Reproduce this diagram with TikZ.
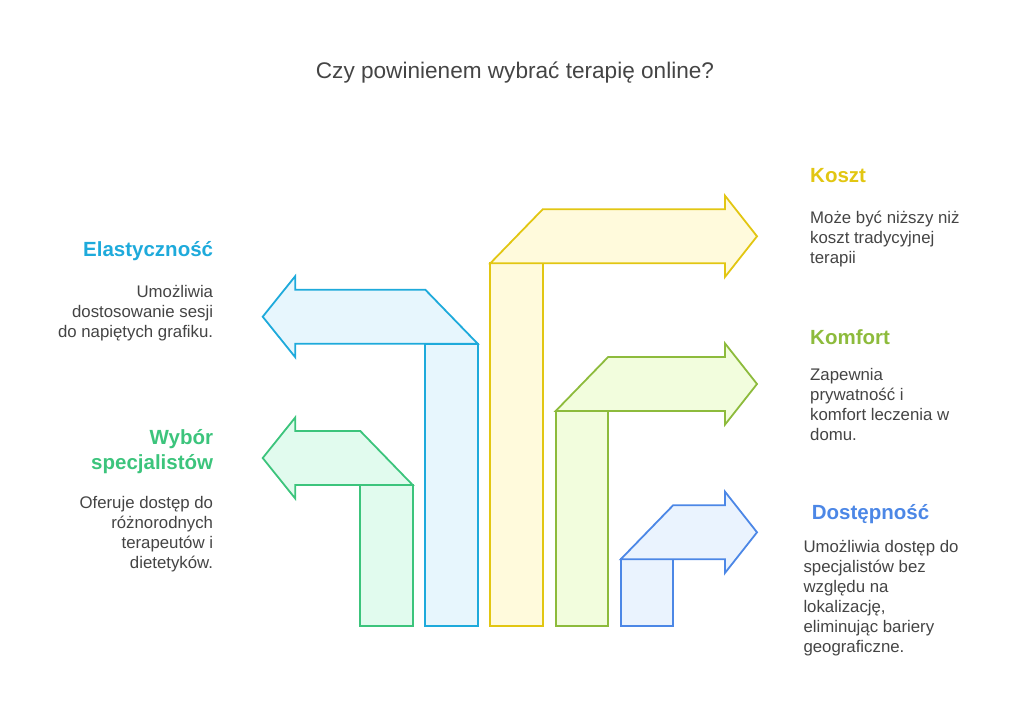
\documentclass[tikz,border=0pt]{standalone}
\usepackage{fontspec}
\setmainfont{Liberation Sans}
\usetikzlibrary{positioning}

\definecolor{textgray}{HTML}{444444}
\definecolor{kosztline}{HTML}{E2C612}
\definecolor{kosztfill}{HTML}{FFFADC}
\definecolor{komfortline}{HTML}{8DBB3C}
\definecolor{komfortfill}{HTML}{F2FDDD}
\definecolor{dostepline}{HTML}{4C87E6}
\definecolor{dostepfill}{HTML}{EAF3FE}
\definecolor{elastline}{HTML}{1EAADB}
\definecolor{elastfill}{HTML}{E7F6FD}
\definecolor{wyborline}{HTML}{3CC47C}
\definecolor{wyborfill}{HTML}{E1FBEE}

\tikzset{
  bar/.style={line width=1.8pt, line join=miter},
  title/.style={font=\fontsize{22.6}{27}\selectfont, text=textgray, inner sep=0pt},
  head/.style={font=\bfseries\fontsize{20.5}{25}\selectfont, inner sep=0pt},
  body/.style={font=\fontsize{16.8}{20}\selectfont, text=textgray, inner sep=0pt},
}

\begin{document}
\begin{tikzpicture}[x=1pt, y=-1pt]
    \useasboundingbox (0,0) rectangle (1024,715);
    % arrows to the right
    \foreach \L/\T/\col in {490.3/263.3/koszt, 555.7/411/komfort, 620.7/559.3/dostep} {
        \draw[bar, draw=\col line, fill=\col fill] (\L,626) -- (\L+52.4,626) -- (\L+52.4,\T) -- (\L,\T) -- cycle;
        \draw[bar, draw=\col line, fill=\col fill] (\L,\T) -- (\L+52.4,\T-54) -- (725,\T-54) -- (725,\T-67.6)
            -- (757,\T-27) -- (725,\T+13.6) -- (725,\T) -- cycle;
    }
    % arrows to the left
    \foreach \R/\T/\col in {477.7/343.7/elast, 412.7/485/wybor} {
        \draw[bar, draw=\col line, fill=\col fill] (\R-52.4,626) -- (\R,626) -- (\R,\T) -- (\R-52.4,\T) -- cycle;
        \draw[bar, draw=\col line, fill=\col fill] (\R,\T) -- (\R-52.4,\T-54) -- (295.3,\T-54) -- (295.3,\T-67.6)
            -- (262.7,\T-27) -- (295.3,\T+13.6) -- (295.3,\T) -- cycle;
    }

    \node[title, anchor=base] (title) at (515,78.3) {Czy powinienem wybrać terapię online?};

    \node[head, text=kosztline, anchor=base west] (koszt) at (810,182.7) {Koszt};
    \node[body, align=left, anchor=north west] (kosztText) at (810,209.3) {\strut Może być niższy niż\\koszt tradycyjnej\\terapii};

    \node[head, text=komfortline, anchor=base west] (komfort) at (810,344) {Komfort};
    \node[body, align=left, anchor=north west] (komfortText) at (810,366) {\strut Zapewnia\\prywatność i\\komfort leczenia w\\domu.};

    \node[head, text=dostepline, anchor=base west] (dostep) at (811.7,519) {Dostępność};
    \node[body, align=left, anchor=north west] (dostepText) at (803.3,538.3) {\strut Umożliwia dostęp do\\specjalistów bez\\względu na\\lokalizację,\\eliminując bariery\\geograficzne.};

    \node[head, text=elastline, anchor=base east] (elast) at (213.3,256.7) {Elastyczność};
    \node[body, align=right, anchor=north east] (elastText) at (213.3,283.3) {\strut Umożliwia\\dostosowanie sesji\\do napiętych grafiku.};

    \node[head, text=wyborline, align=right, anchor=north east] (wybor) at (213.3,426.8) {\strut Wybór\\specjalistów};
    \node[body, align=right, anchor=north east] (wyborText) at (213.3,494.3) {\strut Oferuje dostęp do\\różnorodnych\\terapeutów i\\dietetyków.};
\end{tikzpicture}
\end{document}
